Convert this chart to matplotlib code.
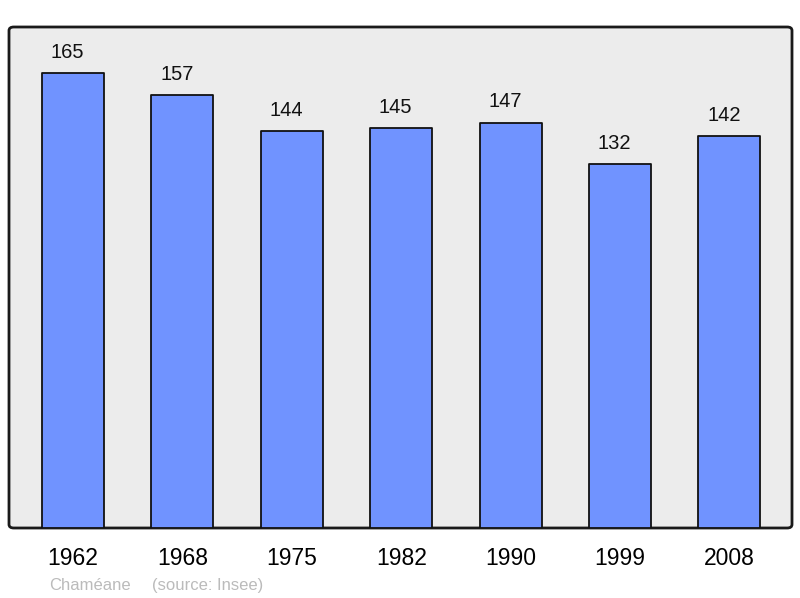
import matplotlib
matplotlib.use("Agg")
import matplotlib.pyplot as plt
from matplotlib.patches import FancyBboxPatch

years = ["1962", "1968", "1975", "1982", "1990", "1999", "2008"]
population = [165, 157, 144, 145, 147, 132, 142]

plt.rcParams["font.family"] = ["Liberation Sans", "DejaVu Sans"]

W, H = 800, 598
fig = plt.figure(figsize=(W / 100, H / 100), dpi=100)
ax = fig.add_axes([9 / W, (H - 528) / H, 783 / W, 501 / H])
ax.set_facecolor("none")
ax.set_zorder(1)

# rounded frame behind the axes
frame = FancyBboxPatch((9 / W, (H - 528) / H), 783 / W, 501 / H,
                       boxstyle="round,pad=0,rounding_size=0.006",
                       transform=fig.transFigure, facecolor="#ececec",
                       edgecolor="#1a1a1a", linewidth=2, zorder=-1)
fig.patches.append(frame)

x = range(len(years))
bars = ax.bar(x, population, width=0.567, color="#7093ff", edgecolor="#111111",
              linewidth=1.3, zorder=2)
for b in bars:
    b.set_joinstyle("round")
for xi, v in zip(x, population):
    ax.annotate(str(v), (xi, v), xytext=(-4, 11), textcoords="offset points",
                ha="center", va="baseline", fontsize=14.5, color="#111111")

ax.set_xlim(-0.585, 6.572)
ax.set_ylim(0, 181.7)
for s in ax.spines.values():
    s.set_visible(False)
ax.set_yticks([])
ax.set_xticks(list(x))
ax.set_xticklabels(years, fontsize=16.5)
ax.tick_params(axis="x", length=0, pad=14)

fig.text(49 / W, (H - 590) / H, "Chaméane", fontsize=12, color="#bbbbbb",
         va="baseline")
fig.text(152 / W, (H - 590) / H, "(source: Insee)", fontsize=12,
         color="#bbbbbb", va="baseline")

fig.savefig("out.png", dpi=100)
